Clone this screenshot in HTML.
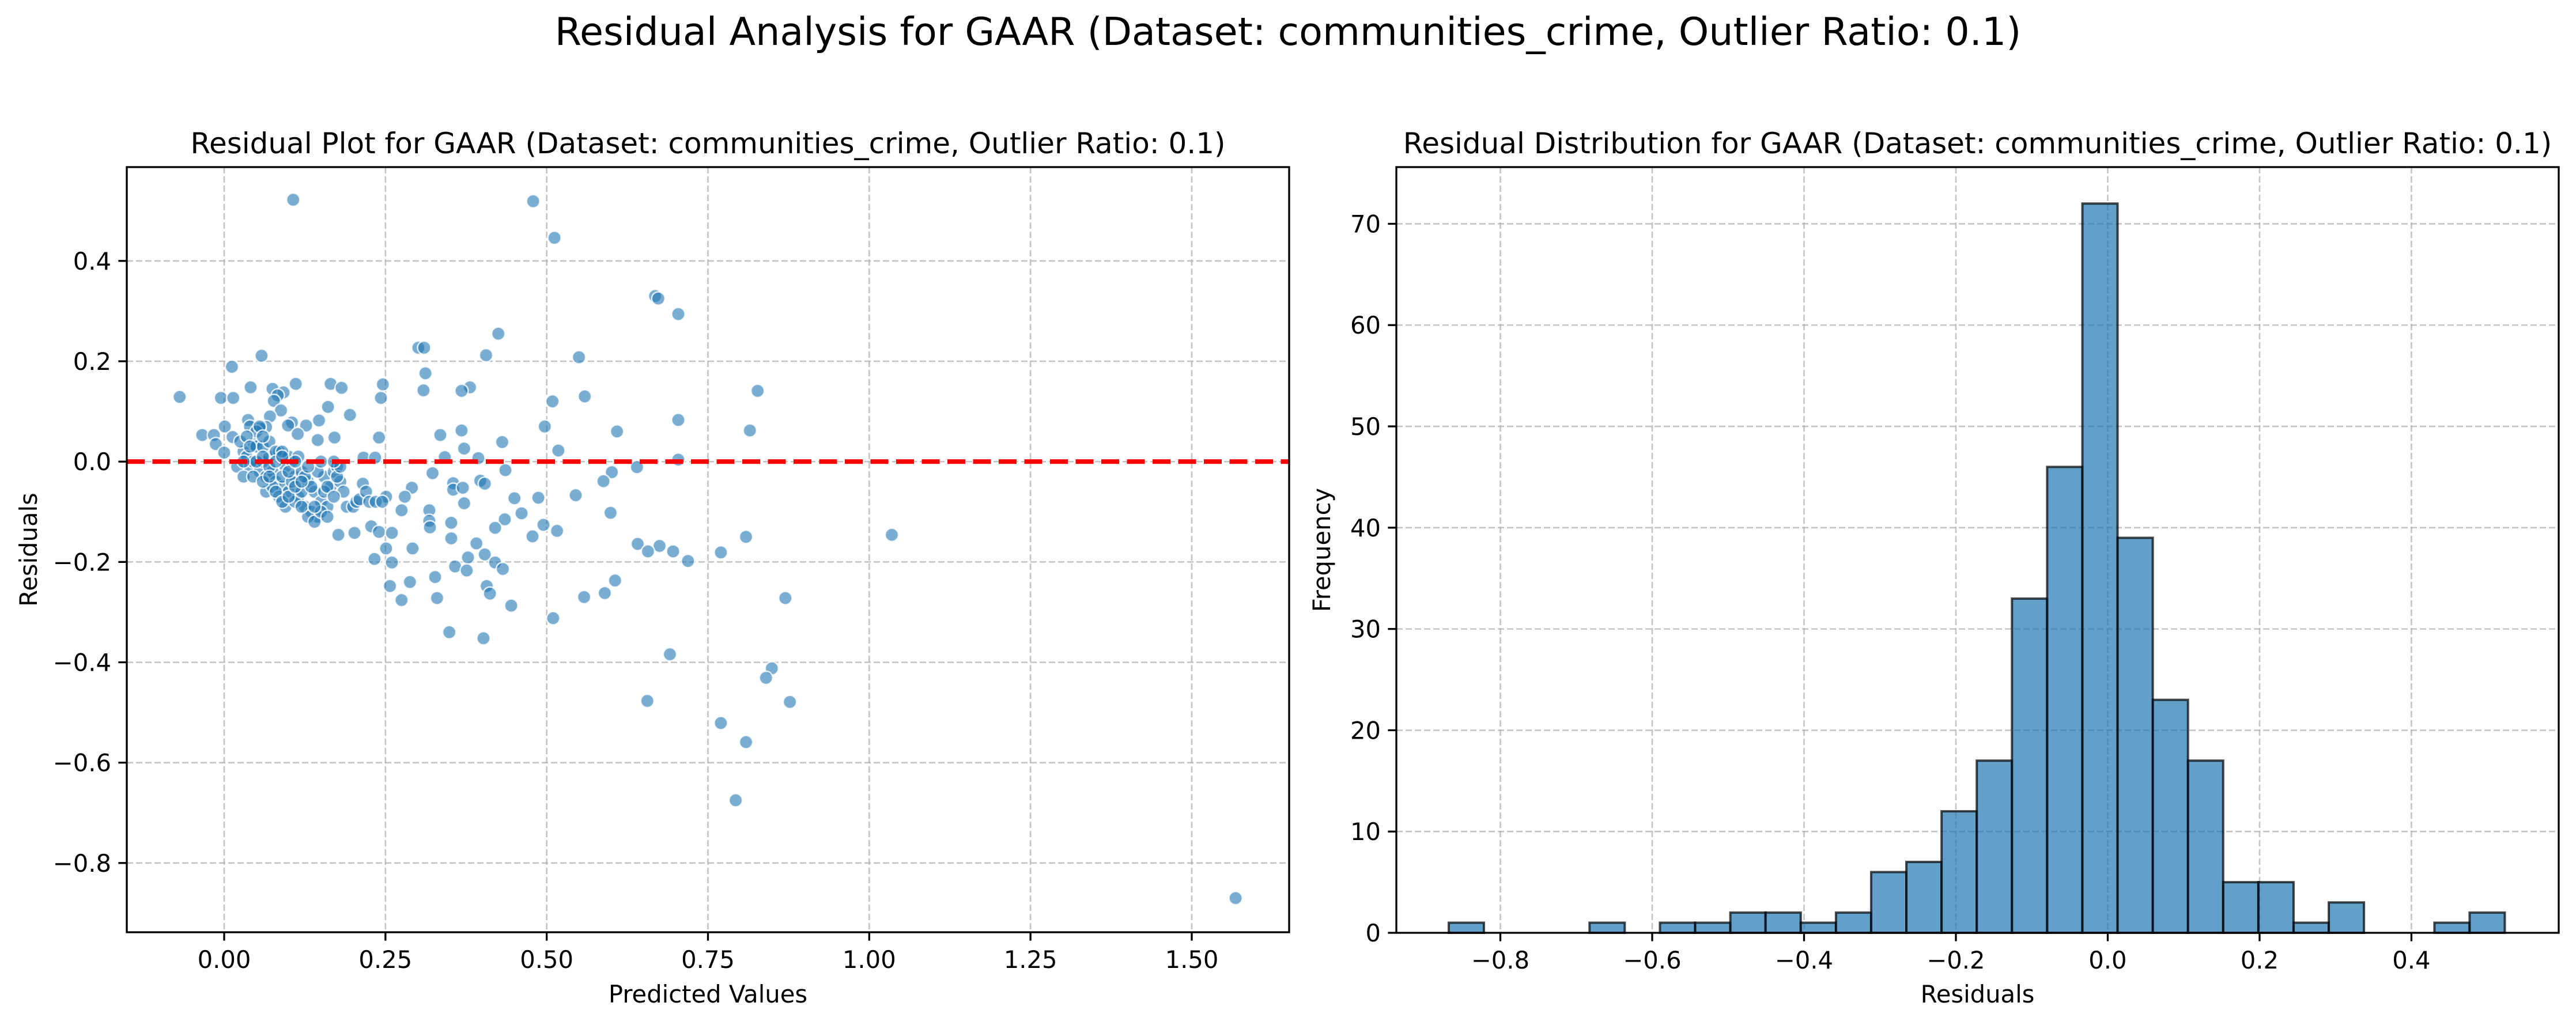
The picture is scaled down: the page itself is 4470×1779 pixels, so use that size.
<!DOCTYPE html>
<html><head><meta charset="utf-8"><style>
html,body{margin:0;padding:0;background:#fff;}
svg{display:block;font-family:"DejaVu Sans","Liberation Sans",sans-serif;}
</style></head><body>
<svg id="fig" width="4470" height="1779" viewBox="0 0 4470 1779" xmlns="http://www.w3.org/2000/svg">
<rect width="4470" height="1779" fill="#fff"/>
<text x="2235" y="78" font-size="66.7" text-anchor="middle">Residual Analysis for GAAR (Dataset: communities_crime, Outlier Ratio: 0.1)</text>
<g id="left"></g>
<g id="right"></g>
</svg>
<script>
// ---- scatter data ----
const predicted = [0.107,0.479,0.512,0.668,0.673,0.704,0.425,0.301,0.310,0.406,0.550,0.058,0.012,0.312,0.111,0.165,0.246,0.041,0.182,0.381,0.368,0.309,0.827,0.075,0.092,0.083,-0.069,-0.005,0.014,0.243,0.559,0.509,0.077,0.161,0.088,0.195,0.704,0.071,0.147,0.105,0.037,0.497,0.127,0.099,0.001,0.065,0.055,0.368,0.815,0.609,0.114,0.335,-0.034,-0.016,0.240,0.171,0.013,0.145,0.431,-0.013,0.046,0.372,0.518,0.000,0.342,0.704,0.394,0.216,0.234,0.640,0.436,0.601,0.323,0.588,0.397,0.404,0.355,0.355,0.370,0.291,0.215,0.251,0.280,0.450,0.487,0.545,0.372,0.275,0.318,0.599,0.461,0.435,0.318,0.319,0.420,0.495,0.352,0.516,0.228,0.240,0.260,0.177,0.202,0.352,0.478,0.391,0.809,0.641,0.675,0.657,0.696,0.770,0.719,1.035,0.251,0.292,0.404,0.378,0.233,0.260,0.420,0.432,0.358,0.376,0.606,0.327,0.288,0.257,0.407,0.412,0.590,0.558,0.870,0.275,0.330,0.445,0.510,0.349,0.402,0.691,0.849,0.840,0.656,0.877,0.770,0.809,0.793,1.568,
0.03,0.035,0.04,0.045,0.05,0.055,0.06,0.065,0.07,0.075,0.08,0.085,0.09,0.095,0.1,0.105,0.11,0.115,0.12,0.125,0.13,0.135,0.14,0.145,0.15,0.155,0.16,0.165,0.17,0.175,0.18,0.185,0.19,0.2,0.205,0.21,0.22,0.225,0.235,0.245,
0.02,0.025,0.03,0.04,0.045,0.05,0.06,0.065,0.07,0.075,0.08,0.085,0.09,0.095,0.1,0.105,0.11,0.115,0.12,0.125,0.13,0.135,0.14,0.145,0.15,0.155,0.16,0.17,0.175,0.18,
0.035,0.05,0.055,0.06,0.07,0.08,0.09,0.1,0.11,0.12,0.13,0.14,0.15,0.16,0.17,0.08,0.09,0.1,0.11,0.12,0.03,0.04,0.06,0.07,0.06,0.09];
const residuals = [0.522,0.519,0.446,0.330,0.325,0.294,0.255,0.227,0.227,0.212,0.208,0.211,0.189,0.176,0.155,0.155,0.154,0.148,0.147,0.148,0.141,0.142,0.141,0.145,0.138,0.132,0.129,0.127,0.127,0.127,0.130,0.120,0.121,0.109,0.102,0.093,0.083,0.090,0.082,0.078,0.083,0.070,0.072,0.072,0.070,0.069,0.067,0.062,0.062,0.060,0.055,0.053,0.053,0.053,0.048,0.048,0.049,0.043,0.039,0.035,0.035,0.026,0.022,0.018,0.009,0.004,0.007,0.008,0.008,-0.011,-0.017,-0.021,-0.023,-0.039,-0.038,-0.044,-0.043,-0.056,-0.052,-0.052,-0.044,-0.070,-0.070,-0.073,-0.072,-0.067,-0.083,-0.097,-0.097,-0.102,-0.103,-0.115,-0.118,-0.131,-0.132,-0.126,-0.122,-0.138,-0.129,-0.140,-0.142,-0.146,-0.142,-0.153,-0.149,-0.163,-0.150,-0.164,-0.168,-0.179,-0.179,-0.181,-0.198,-0.146,-0.173,-0.173,-0.185,-0.191,-0.194,-0.201,-0.201,-0.214,-0.209,-0.217,-0.237,-0.230,-0.240,-0.248,-0.248,-0.263,-0.262,-0.270,-0.272,-0.276,-0.272,-0.287,-0.312,-0.340,-0.352,-0.384,-0.412,-0.431,-0.477,-0.479,-0.521,-0.559,-0.675,-0.870,
0.02,0.01,-0.01,0.0,0.03,-0.02,0.0,-0.03,0.01,-0.02,-0.04,0.02,-0.05,-0.01,-0.06,0.0,-0.03,-0.07,-0.02,-0.09,-0.04,-0.1,-0.06,-0.11,-0.08,-0.03,-0.09,-0.05,-0.02,-0.01,-0.04,-0.06,-0.09,-0.09,-0.08,-0.075,-0.06,-0.08,-0.08,-0.08,
-0.01,0.04,-0.03,0.07,-0.03,0.06,0.03,-0.06,0.04,-0.05,0.02,-0.07,-0.03,-0.09,0.01,-0.04,-0.08,0.01,-0.06,-0.03,-0.11,-0.05,-0.12,-0.02,-0.1,-0.06,-0.05,-0.07,-0.03,-0.01,
0.05,0.0,0.07,-0.04,-0.01,0.0,0.02,-0.02,0.0,-0.09,-0.01,-0.09,0.0,-0.11,0.0,-0.06,-0.08,-0.07,-0.05,-0.04,0.0,0.03,0.01,-0.03,0.05,0.01];
const scatterXTicks = [0,0.25,0.5,0.75,1.0,1.25,1.5];
const scatterXTickLabels = ["0.00","0.25","0.50","0.75","1.00","1.25","1.50"];
const scatterYTicks = [-0.8,-0.6,-0.4,-0.2,0,0.2,0.4];
const scatterYTickLabels = ["\u22120.8","\u22120.6","\u22120.4","\u22120.2","0.0","0.2","0.4"];
// ---- histogram data ----
const binStart = -0.868;
const binEnd = 0.523;
const binCounts = [1,0,0,0,1,0,1,1,2,2,1,2,6,7,12,17,33,46,72,39,23,17,5,5,1,3,0,0,1,2];
const histXTicks = [-0.8,-0.6,-0.4,-0.2,0,0.2,0.4];
const histXTickLabels = ["\u22120.8","\u22120.6","\u22120.4","\u22120.2","0.0","0.2","0.4"];
const histYTicks = [0,10,20,30,40,50,60,70];
const histYTickLabels = ["0","10","20","30","40","50","60","70"];

const NS="http://www.w3.org/2000/svg";
function mk(parent,tag,attrs,text){const e=document.createElementNS(NS,tag);for(const k in attrs)e.setAttribute(k,attrs[k]);if(text!==undefined)e.textContent=text;parent.appendChild(e);return e;}

function axes(g,L,R,T,B,xs,ys,xt,xtl,yt,ytl,title,xlabel,ylabel,ylabX,pfx){
  const grid=mk(g,'g',{});
  
  
  xt.forEach(v=>{mk(grid,'line',{x1:xs(v),x2:xs(v),y1:T,y2:B,stroke:'#b0b0b0','stroke-opacity':0.75,'stroke-width':2.6,'stroke-dasharray':'11 5'});});
  yt.forEach(v=>{mk(grid,'line',{x1:L,x2:R,y1:ys(v),y2:ys(v),stroke:'#b0b0b0','stroke-opacity':0.75,'stroke-width':2.6,'stroke-dasharray':'11 5'});});
  const tk=mk(g,'g',{'font-size':41.7});
  
  
  xt.forEach((v,i)=>{const x=xs(v);mk(tk,'line',{x1:x,x2:x,y1:B,y2:B+14.6,stroke:'#000','stroke-width':3.3});
    const t=mk(tk,'text',{x:x,y:B+62,'text-anchor':'middle'},xtl[i]);
    
    });
  yt.forEach((v,i)=>{const y=ys(v);mk(tk,'line',{x1:L-14.6,x2:L,y1:y,y2:y,stroke:'#000','stroke-width':3.3});
    const t=mk(tk,'text',{x:L-27,y:y+15,'text-anchor':'end'},ytl[i]);
    
    });
  const tt=mk(g,'text',{x:(L+R)/2,y:T-24,'font-size':50,'text-anchor':'middle'},title);
  
  
  const xl=mk(g,'text',{x:(L+R)/2,y:1740,'font-size':41.7,'text-anchor':'middle'},xlabel);
  
  
  const yl=mk(g,'text',{x:ylabX,y:(T+B)/2,'font-size':41.7,'text-anchor':'middle',transform:`rotate(-90 ${ylabX} ${(T+B)/2})`},ylabel);
  
  
}

// left
(function(){
  const g=document.getElementById('left');
  const L=220,R=2237,T=290,B=1618;
  const x0=-0.151,x1=1.651,y0=-0.938,y1=0.587;
  const xs=v=>L+(v-x0)/(x1-x0)*(R-L), ys=v=>B-(v-y0)/(y1-y0)*(B-T);
  axes(g,L,R,T,B,xs,ys,scatterXTicks,scatterXTickLabels,scatterYTicks,scatterYTickLabels,
    "Residual Plot for GAAR (Dataset: communities_crime, Outlier Ratio: 0.1)","Predicted Values","Residuals",64,'scatter');
  const pts=mk(g,'g',{});
  
  
  predicted.forEach((p,i)=>{
    const c=mk(pts,'circle',{cx:xs(p),cy:ys(residuals[i]),r:11.5,fill:'#1f77b4','fill-opacity':0.6,stroke:'#fff','stroke-opacity':0.8,'stroke-width':2.5});
    
    
  });
  const zl=mk(g,'line',{x1:L,x2:R,y1:ys(0),y2:ys(0),stroke:'#ff0000','stroke-width':8,'stroke-dasharray':'31 13.5'});
  
  
  const fr=mk(g,'rect',{x:L,y:T,width:R-L,height:B-T,fill:'none',stroke:'#000','stroke-width':3.3});
  
  
})();

// right
(function(){
  const g=document.getElementById('right');
  const L=2423,R=4440,T=290,B=1619;
  const x0=-0.937,x1=0.594,y0=0,y1=75.6;
  const xs=v=>L+(v-x0)/(x1-x0)*(R-L), ys=v=>B-(v-y0)/(y1-y0)*(B-T);
  axes(g,L,R,T,B,xs,ys,histXTicks,histXTickLabels,histYTicks,histYTickLabels,
    "Residual Distribution for GAAR (Dataset: communities_crime, Outlier Ratio: 0.1)","Residuals","Frequency",2308,'hist');
  const bars=mk(g,'g',{});
  
  
  const w=(binEnd-binStart)/binCounts.length;
  binCounts.forEach((c,i)=>{
    const a=xs(binStart+i*w), b=xs(binStart+(i+1)*w);
    const r=mk(bars,'rect',{x:a,y:ys(c),width:b-a,height:ys(0)-ys(c),fill:'#1f77b4','fill-opacity':0.7,stroke:'#000','stroke-opacity':0.7,'stroke-width':4});
    
    
  });
  const fr=mk(g,'rect',{x:L,y:T,width:R-L,height:B-T,fill:'none',stroke:'#000','stroke-width':3.3});
  
  
})();
</script>
</body></html>
